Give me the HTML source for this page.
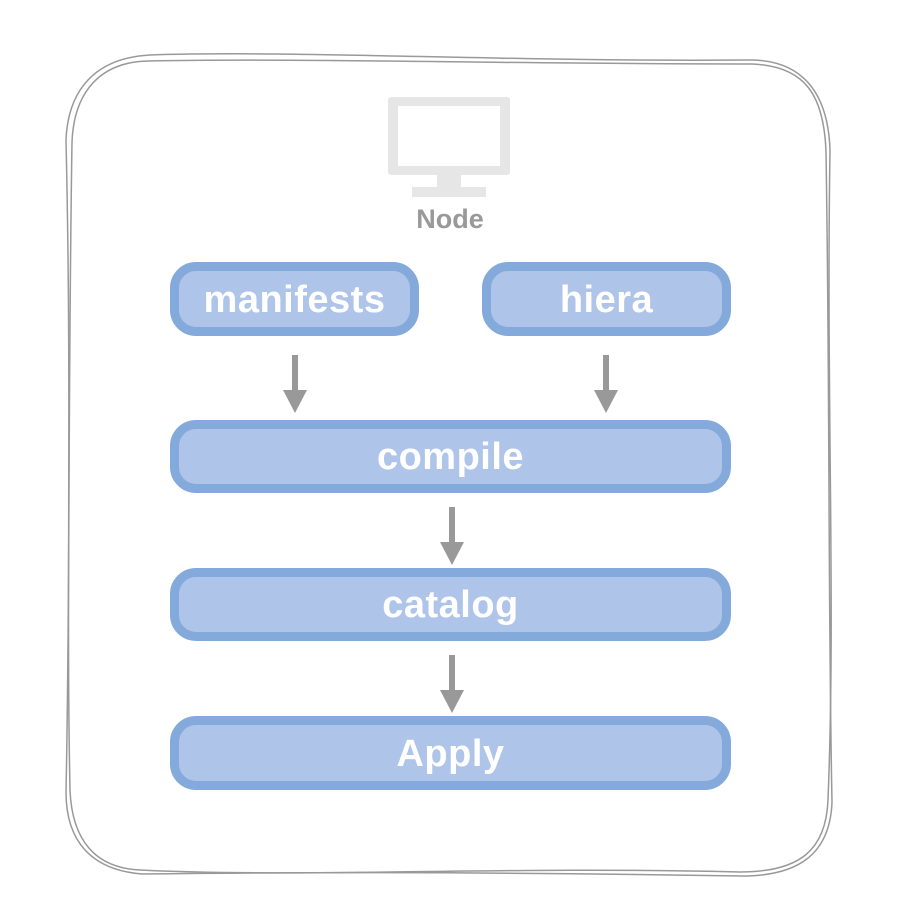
<!DOCTYPE html>
<html><head><meta charset="utf-8"><style>
html,body{margin:0;padding:0;background:#fff;}
body{width:904px;height:918px;position:relative;overflow:hidden;font-family:"Liberation Sans",sans-serif;}
.b{position:absolute;box-sizing:border-box;border:9px solid #84a9db;background:#aec4e8;border-radius:26px;color:#fff;font-weight:bold;font-size:38px;letter-spacing:0.5px;text-align:center;}
</style></head><body>
<svg width="904" height="918" style="position:absolute;left:0;top:0">
<g fill="none" stroke="#999" stroke-width="1.5">
<path d="M150,55 C300,50 500,62 750,60 C800,60 828,90 830,150 C826,400 836,600 828,800 C826,850 800,872 740,872 C500,866 300,878 140,870 C95,868 72,840 70,790 C66,600 72,400 66,140 C68,90 95,58 150,55 Z"/>
<path d="M148,61 C300,58 500,64 752,64 C806,66 824,96 826,152 C830,400 828,600 832,802 C830,856 796,876 742,876 C500,872 300,872 142,874 C92,870 66,842 66,792 C70,600 68,400 72,142 C74,92 100,62 148,61 Z"/>
</g>
<g fill="#e6e6e6">
<rect x="388" y="97" width="122" height="78" rx="3"/>
<rect x="437" y="174" width="24" height="14"/>
<rect x="412" y="187" width="74" height="10"/>
</g>
<rect x="398" y="106" width="102" height="60" fill="#fff"/>
<text x="450" y="228" text-anchor="middle" font-family="Liberation Sans" font-weight="bold" font-size="27" fill="#999">Node</text>
<g fill="#999">
<rect x="292" y="355" width="6" height="40"/><polygon points="283,390 307,390 295,413"/>
<rect x="603" y="355" width="6" height="40"/><polygon points="594,390 618,390 606,413"/>
<rect x="449" y="507" width="6" height="40"/><polygon points="440,542 464,542 452,565"/>
<rect x="449" y="655" width="6" height="40"/><polygon points="440,690 464,690 452,713"/>
</g>
</svg>
<div class="b" style="left:170px;top:262px;width:249px;height:74px;line-height:58px">manifests</div>
<div class="b" style="left:482px;top:262px;width:249px;height:74px;line-height:58px">hiera</div>
<div class="b" style="left:170px;top:420px;width:561px;height:73px;line-height:57px">compile</div>
<div class="b" style="left:170px;top:568px;width:561px;height:73px;line-height:57px">catalog</div>
<div class="b" style="left:170px;top:716px;width:561px;height:74px;line-height:58px">Apply</div>
</body></html>
